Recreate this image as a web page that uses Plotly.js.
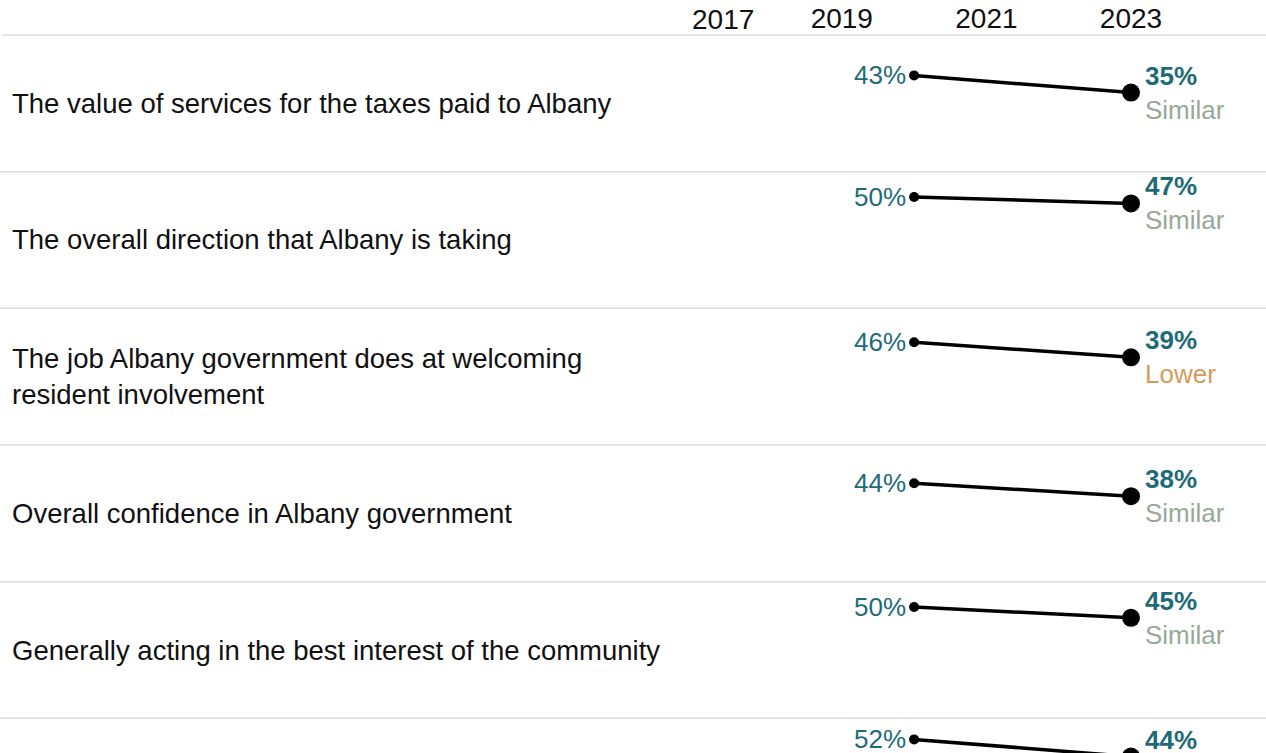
<!DOCTYPE html>
<html>
<head>
<meta charset="utf-8">
<script src="https://cdn.plot.ly/plotly-3.0.1.min.js"></script>
<style>
  html, body { margin: 0; padding: 0; background: #ffffff; }
  #wrap { width: 1266px; height: 753px; overflow: hidden; position: relative; }
  #chart { width: 1266px; height: 855px; }
</style>
</head>
<body>
<div id="wrap"><div id="chart"></div></div>
<script>
// ---- data ----
const categories = [
  "The value of services for the taxes paid to Albany",
  "The overall direction that Albany is taking",
  "The job Albany government does at welcoming<br>resident involvement",
  "Overall confidence in Albany government",
  "Generally acting in the best interest of the community",
  "Being honest"
];
const surveyYears = [2020, 2023];
const startValues = [43, 50, 46, 44, 50, 52];
const endValues = [35, 47, 39, 38, 45, 44];
const comparisons = ["Similar", "Similar", "Lower", "Similar", "Similar", "Similar"];
const headerYears = [2017, 2019, 2021, 2023];

// ---- styling ----
const FONT = "Liberation Sans, Arial, Helvetica, sans-serif";
const TEAL = "#1e6b78";
const compColor = { "Similar": "#98a898", "Lower": "#d49b5c", "Higher": "#3d7fa6" };
const nRows = categories.length;

const traces = [];
const annotations = [];
const shapes = [];
const layout = {
  width: 1266, height: 855,
  margin: { l: 0, r: 0, t: 35, b: 0 },
  paper_bgcolor: "#ffffff", plot_bgcolor: "#ffffff",
  showlegend: false, hovermode: false,
  font: { family: FONT, size: 27, color: "#111111" },
  xaxis: {
    domain: [688 / 1266, 1],
    range: [2016.873, 2024.867],
    side: "top", anchor: "y",
    tickvals: headerYears.slice(1),
    ticktext: headerYears.slice(1).map(String),
    ticks: "", showgrid: false, zeroline: false, showline: false,
    tickfont: { family: FONT, size: 28, color: "#111111" },
    fixedrange: true
  }
};

for (let i = 0; i < nRows; i++) {
  const yName = i === 0 ? "y" : "y" + (i + 1);
  const yKey = i === 0 ? "yaxis" : "yaxis" + (i + 1);
  layout[yKey] = {
    domain: [1 - (i + 1) / nRows, 1 - i / nRows],
    range: [-1.8, 61.8],
    visible: false, fixedrange: true, anchor: "x"
  };
  traces.push({
    type: "scatter", mode: "lines+markers",
    x: surveyYears, y: [startValues[i], endValues[i]],
    xaxis: "x", yaxis: yName,
    line: { color: "#000000", width: 3.5 },
    marker: { color: "#000000", size: [10, 18], opacity: 1, line: { width: 0, color: "#000000" } },
    opacity: 1,
    cliponaxis: false
  });
  // left category label
  annotations.push({
    xref: "paper", x: 10 / 1266, xanchor: "left",
    yref: yName + " domain", y: 0.5, yanchor: "middle",
    text: categories[i], showarrow: false, align: "left",
    font: { family: FONT, size: 27.5, color: "#111111" }
  });
  // start value label
  annotations.push({
    xref: "x", x: surveyYears[0], yref: yName, y: startValues[i],
    xanchor: "right", yanchor: "middle", xshift: -6,
    text: startValues[i] + "%", showarrow: false,
    font: { family: FONT, size: 26, color: TEAL }
  });
  // end value + comparison label
  annotations.push({
    xref: "x", x: surveyYears[1], yref: yName, y: endValues[i],
    xanchor: "left", yanchor: "middle", xshift: 12, align: "left",
    text: "<b>" + endValues[i] + "%</b><br><span style=\"color:" + compColor[comparisons[i]] + "\">" + comparisons[i] + "</span>",
    showarrow: false,
    font: { family: FONT, size: 26, color: TEAL }
  });
  // row separator
  shapes.push({
    type: "line", xref: "paper", x0: i === 0 ? 2 / 1266 : 0, x1: 1,
    yref: yName + " domain", y0: 1, y1: 1,
    line: { color: "#dcdcdc", width: 1.5 }, layer: "below"
  });
}

// first header year sits flush at the left edge of the year pane
annotations.push({
  xref: "x domain", x: 0, xanchor: "left", xshift: 2,
  yref: "paper", y: 1, yanchor: "bottom", yshift: -2,
  text: String(headerYears[0]), showarrow: false,
  font: { family: FONT, size: 28, color: "#111111" }
});

layout.annotations = annotations;
layout.shapes = shapes;

Plotly.newPlot("chart", traces, layout, { displayModeBar: false, staticPlot: true });
</script>
</body>
</html>
